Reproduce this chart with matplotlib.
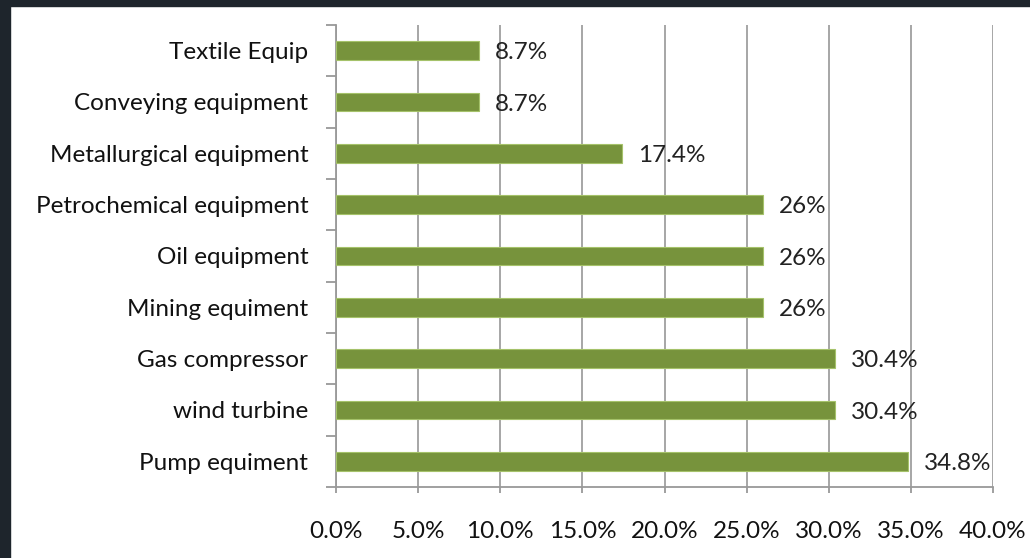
import matplotlib.pyplot as plt
from matplotlib.patches import Rectangle

# data (top to bottom as shown)
categories = ['Textile Equip', 'Conveying equipment', 'Metallurgical equipment',
              'Petrochemical equipment', 'Oil equipment', 'Mining equiment',
              'Gas compressor', 'wind turbine', 'Pump equiment']
values = [8.7, 8.7, 17.4, 26, 26, 26, 30.4, 30.4, 34.8]
value_labels = ['8.7%', '8.7%', '17.4%', '26%', '26%', '26%', '30.4%', '30.4%', '34.8%']
xticks = [0, 5, 10, 15, 20, 25, 30, 35, 40]
xtick_labels = ['0.0%', '5.0%', '10.0%', '15.0%', '20.0%', '25.0%', '30.0%', '35.0%', '40.0%']

plt.rcParams['font.family'] = ['Lato', 'DejaVu Sans']
fs = 17.5

fig = plt.figure(figsize=(10.3, 5.58), dpi=100)
fig.patch.set_facecolor('white')

# dark frame strips on top and left
fig.add_artist(Rectangle((0, 1 - 6 / 558), 1, 6 / 558, transform=fig.transFigure,
                         color='#1e252c', zorder=0))
fig.add_artist(Rectangle((0, 0), 10 / 1030, 1, transform=fig.transFigure,
                         color='#1e252c', zorder=0))

ax = fig.add_axes([336 / 1030, 1 - 487 / 558, 657 / 1030, 462 / 558])

ypos = list(range(len(categories)))[::-1]
ax.barh(ypos, values, height=0.37, color='#77933c', edgecolor='#a5c26a',
        linewidth=0.8, zorder=3)

for y, v, lab in zip(ypos, values, value_labels):
    ax.annotate(lab, (v, y), xytext=(11.5, -1.5), textcoords='offset points',
                ha='left', va='center', fontsize=fs, color='#222222', zorder=4)

ax.set_xlim(0, 40)
ax.set_ylim(-0.5, len(categories) - 0.5)
ax.set_xticks(xticks)
ax.set_xticklabels(xtick_labels)
ax.set_yticks(ypos)
ax.set_yticklabels(categories)

# category boundary ticks
ax.set_yticks([i - 0.5 for i in range(len(categories) + 1)], minor=True)
ax.tick_params(axis='y', which='major', length=0, pad=20, labelsize=fs,
               labelcolor='#111111')
ax.tick_params(axis='y', which='minor', length=7.2, width=1.3, color='#999999')
ax.tick_params(axis='x', length=4.3, width=1.3, color='#999999', pad=20.5,
               labelsize=fs, labelcolor='#111111')

ax.grid(axis='x', color='#a6a6a6', linewidth=1.4, zorder=0)
for s in ['top', 'right']:
    ax.spines[s].set_visible(False)
for s in ['left', 'bottom']:
    ax.spines[s].set_color('#999999')
    ax.spines[s].set_linewidth(1.3)

fig.savefig('out.png', dpi=100)
